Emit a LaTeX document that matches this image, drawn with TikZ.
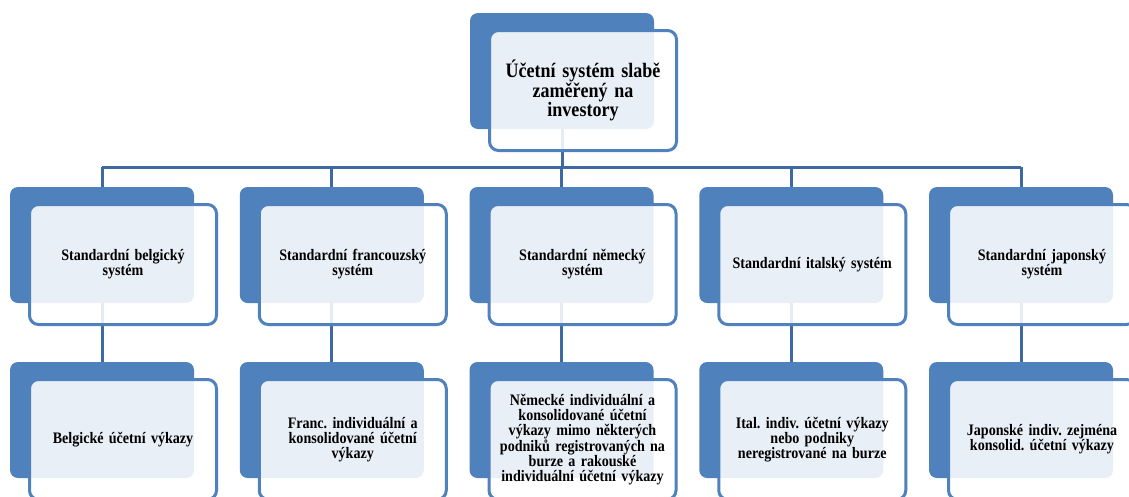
\documentclass[tikz,border=0pt]{standalone}
\usepackage{fontspec}
\setmainfont{Liberation Serif}[FakeStretch=0.88]
\frenchspacing
\definecolor{boxblue}{RGB}{79,129,189}
\definecolor{linkblue}{RGB}{62,106,164}
\tikzset{
  backbox/.style={rectangle, rounded corners=8pt, fill=boxblue,
    minimum width=184pt, minimum height=116pt, inner sep=0pt},
  frontbox/.style={rectangle, rounded corners=9pt, draw=boxblue, line width=3pt,
    fill=white, fill opacity=0.88, text opacity=1, text=black,
    minimum width=187pt, minimum height=120pt, inner sep=0pt,
    align=center, text width=172pt,
    font=\bfseries\fontsize{16}{15}\selectfont},
  topfont/.style={font=\bfseries\fontsize{20.5}{18}\selectfont},
  link/.style={draw=linkblue, line width=3pt}
}
\begin{document}
\begin{tikzpicture}[x=1pt,y=-1pt]
\useasboundingbox (0,0) rectangle (1129,496);
\clip (0,0) rectangle (1129,496);
\fill[white] (0,0) rectangle (1129,496);

% back plates
\node[backbox] (tb) at (562,71) {};
\foreach \i/\cx in {1/102,2/331.75,3/561.5,4/791.25,5/1021}{
  \node[backbox] (mb\i) at (\cx,245) {};
  \node[backbox] (lb\i) at (\cx,420) {};
}

% connectors
\coordinate (bus) at (0,167);
\draw[link] (tb.south) -- (tb.south |- bus);
\draw[link] (mb1.north |- bus) -- (mb5.north |- bus);
\foreach \i in {1,...,5}{
  \draw[link] (mb\i.north |- bus) -- (mb\i.north);
  \draw[link] (mb\i.south) -- (lb\i.north);
}

% front cards with text
\node[frontbox, topfont] (tf) at ([xshift=21pt,yshift=-19.5pt]tb.center)
  {Účetní systém slabě\\zaměřený na\\investory};

\node[frontbox] (mf1) at ([xshift=21pt,yshift=-19.5pt]mb1.center) {Standardní belgický\\systém};
\node[frontbox] (mf2) at ([xshift=21pt,yshift=-19.5pt]mb2.center) {Standardní francouzský\\systém};
\node[frontbox] (mf3) at ([xshift=21pt,yshift=-19.5pt]mb3.center) {Standardní německý\\systém};
\node[frontbox] (mf4) at ([xshift=21pt,yshift=-19.5pt]mb4.center) {Standardní italský systém};
\node[frontbox] (mf5) at ([xshift=21pt,yshift=-19.5pt]mb5.center) {Standardní japonský\\systém};

\node[frontbox] (lf1) at ([xshift=21pt,yshift=-19.5pt]lb1.center) {Belgické účetní výkazy};
\node[frontbox] (lf2) at ([xshift=21pt,yshift=-19.5pt]lb2.center) {Franc. individuální a\\konsolidované účetní\\výkazy};
\node[frontbox] (lf3) at ([xshift=21pt,yshift=-19.5pt]lb3.center) {Německé individuální a\\konsolidované účetní\\výkazy mimo některých\\podniků registrovaných na\\burze a rakouské\\individuální účetní výkazy};
\node[frontbox] (lf4) at ([xshift=21pt,yshift=-19.5pt]lb4.center) {Ital. indiv. účetní výkazy\\nebo podniky\\neregistrované na burze};
\node[frontbox] (lf5) at ([xshift=21pt,yshift=-19.5pt]lb5.center) {Japonské indiv. zejména\\konsolid. účetní výkazy};
\end{tikzpicture}
\end{document}
